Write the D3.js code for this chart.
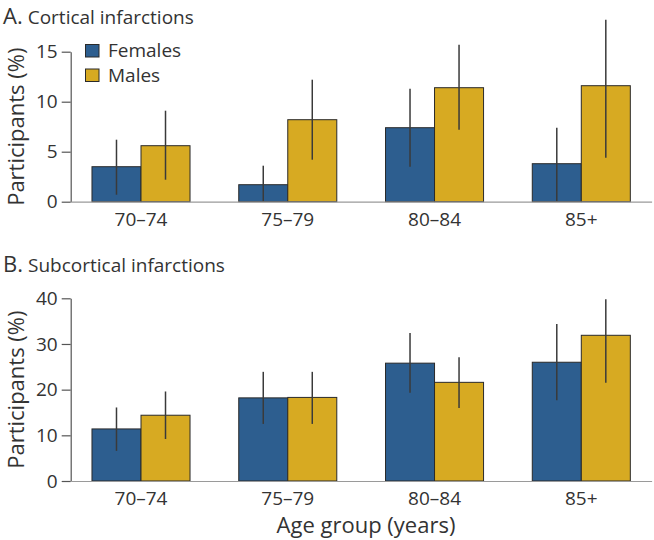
<!DOCTYPE html>
<html>
<head>
<meta charset="utf-8">
<script src="https://cdn.jsdelivr.net/npm/d3@7"></script>
<style>
  html, body { margin: 0; padding: 0; background: #fff; }
  svg { display: block; font-family: "Open Sans", sans-serif; }
</style>
</head>
<body>
<svg id="chart" width="654" height="540"></svg>
<script>
// ---- Data ----
const ageGroups = ["70–74", "75–79", "80–84", "85+"];
const sexes = ["Females", "Males"];

// A. Cortical infarctions (%)
const cortFemales   = [3.5, 1.7, 7.4, 3.8];
const cortFemalesLo = [0.7, 0.0, 3.5, 0.0];
const cortFemalesHi = [6.2, 3.6, 11.3, 7.4];
const cortMales     = [5.6, 8.2, 11.4, 11.6];
const cortMalesLo   = [2.2, 4.2, 7.2, 4.4];
const cortMalesHi   = [9.1, 12.2, 15.7, 18.2];

// B. Subcortical infarctions (%)
const subFemales    = [11.4, 18.2, 25.8, 26.0];
const subFemalesLo  = [6.6, 12.5, 19.3, 17.7];
const subFemalesHi  = [16.1, 23.9, 32.4, 34.4];
const subMales      = [14.4, 18.3, 21.6, 31.9];
const subMalesLo    = [9.2, 12.5, 16.0, 21.5];
const subMalesHi    = [19.6, 23.9, 27.1, 39.8];

const cortTicks = [0, 5, 10, 15];
const subTicks = [0, 10, 20, 30, 40];

// ---- Styles ----
const colors = { Females: "#2d5e8f", Males: "#d7aa22" };
const textColor = "#333";

const svg = d3.select("#chart");

const x = d3.scaleBand()
  .domain(ageGroups)
  .range([70.7, 651.6])
  .paddingInner(0.332)
  .paddingOuter(0.145);

const xSex = d3.scaleBand()
  .domain(sexes)
  .range([0, x.bandwidth()])
  .padding(0);

function buildRows(f, fLo, fHi, m, mLo, mHi) {
  const rows = [];
  ageGroups.forEach((g, i) => {
    rows.push({ group: g, sex: "Females", v: f[i], lo: fLo[i], hi: fHi[i] });
    rows.push({ group: g, sex: "Males", v: m[i], lo: mLo[i], hi: mHi[i] });
  });
  return rows;
}

function drawPanel(opts) {
  const y = d3.scaleLinear().domain(opts.domain).range(opts.yRange);
  const g = svg.append("g");

  // Title
  const t = g.append("text")
    .attr("x", 3)
    .attr("y", opts.titleY)
    .attr("fill", textColor);
  t.append("tspan").attr("font-size", 22).text(opts.letter);
  t.append("tspan").attr("font-size", 19).attr("dx", 5).text(opts.title);

  // Y axis
  const yAxis = g.append("g")
    .attr("transform", `translate(${x.range()[0]},0)`)
    .call(d3.axisLeft(y).tickValues(opts.ticks).tickSize(9).tickPadding(4).tickSizeOuter(0));
  yAxis.select(".domain").attr("stroke", "#555").attr("stroke-width", 1.2);
  yAxis.selectAll(".tick line").attr("stroke", "#555").attr("stroke-width", 1.2);
  yAxis.selectAll(".tick text")
    .attr("font-size", 19)
    .attr("font-family", "Open Sans, sans-serif")
    .attr("fill", textColor);

  // Y label
  const yMid = (opts.yRange[0] + opts.yRange[1]) / 2;
  g.append("text")
    .attr("transform", `translate(23.5,${yMid}) rotate(-90)`)
    .attr("text-anchor", "middle")
    .attr("font-size", 22)
    .attr("fill", textColor)
    .text("Participants (%)");

  // Bars
  const rows = buildRows(...opts.series);
  g.selectAll("rect.bar")
    .data(rows)
    .join("rect")
    .attr("class", "bar")
    .attr("x", d => x(d.group) + xSex(d.sex))
    .attr("y", d => y(d.v))
    .attr("width", xSex.bandwidth())
    .attr("height", d => y(0) - y(d.v))
    .attr("fill", d => colors[d.sex])
    .attr("stroke", "#2a2a2a")
    .attr("stroke-width", 1);

  // Error bars
  g.selectAll("line.err")
    .data(rows)
    .join("line")
    .attr("class", "err")
    .attr("x1", d => x(d.group) + xSex(d.sex) + xSex.bandwidth() / 2)
    .attr("x2", d => x(d.group) + xSex(d.sex) + xSex.bandwidth() / 2)
    .attr("y1", d => y(d.lo))
    .attr("y2", d => y(d.hi))
    .attr("stroke", "#3a3a3a")
    .attr("stroke-width", 1.5);

  // X axis (baseline)
  const xAxis = g.append("g")
    .attr("transform", `translate(0,${y(0)})`)
    .call(d3.axisBottom(x).tickSize(0).tickPadding(11).tickSizeOuter(0));
  xAxis.select(".domain").attr("stroke", "#9a9a9a").attr("stroke-width", 1.2);
  xAxis.selectAll(".tick text")
    .attr("font-size", 19)
    .attr("font-family", "Open Sans, sans-serif")
    .attr("fill", textColor);

  return { g, y };
}

drawPanel({
  letter: "A.", title: "Cortical infarctions", titleY: 23.5,
  domain: [0, 15], yRange: [201.7, 51.7], ticks: cortTicks,
  series: [cortFemales, cortFemalesLo, cortFemalesHi, cortMales, cortMalesLo, cortMalesHi]
});

drawPanel({
  letter: "B.", title: "Subcortical infarctions", titleY: 271.5,
  domain: [0, 40], yRange: [481, 298.3], ticks: subTicks,
  series: [subFemales, subFemalesLo, subFemalesHi, subMales, subMalesLo, subMalesHi]
});

// Legend (panel A)
const legend = svg.append("g");
sexes.forEach((s, i) => {
  const cy = 50.5 + i * 24.5;
  legend.append("rect")
    .attr("x", 85.5).attr("y", cy - 6)
    .attr("width", 13.5).attr("height", 12.5)
    .attr("fill", colors[s])
    .attr("stroke", "#2a2a2a").attr("stroke-width", 1);
  legend.append("text")
    .attr("x", 108).attr("y", cy + 6.5)
    .attr("font-size", 19)
    .attr("fill", textColor)
    .text(s);
});

// X axis title
svg.append("text")
  .attr("x", 366)
  .attr("y", 533)
  .attr("text-anchor", "middle")
  .attr("font-size", 22)
  .attr("fill", textColor)
  .text("Age group (years)");
</script>
</body>
</html>
